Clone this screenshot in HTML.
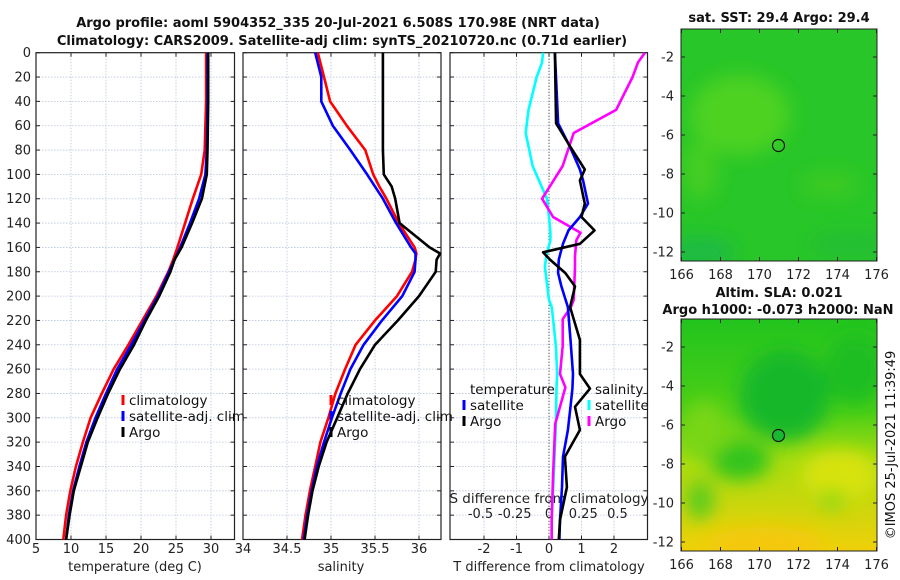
<!DOCTYPE html>
<html><head><meta charset="utf-8"><style>
html,body{margin:0;padding:0;background:#fff}
svg{display:block;font-family:"DejaVu Sans","Liberation Sans",sans-serif}
</style></head><body>
<svg id="fig" width="900" height="580" viewBox="0 0 900 580" xmlns="http://www.w3.org/2000/svg">
<defs>
<filter id="blur1" x="-20%" y="-20%" width="140%" height="140%"><feGaussianBlur stdDeviation="9"/></filter>
<clipPath id="cm1"><rect x="681" y="29" width="196" height="232"/></clipPath>
<clipPath id="cm2"><rect x="681" y="319" width="196" height="232"/></clipPath>
<linearGradient id="g2" x1="0" y1="0" x2="0" y2="1">
<stop offset="0" stop-color="#22c41e"/><stop offset="0.4" stop-color="#4ccf16"/><stop offset="0.62" stop-color="#a8dc10"/><stop offset="1" stop-color="#f0d008"/></linearGradient>
</defs>
<g font-size="13" font-weight="bold" fill="#111" text-anchor="middle">
<text x="338" y="27">Argo profile: aoml 5904352_335 20-Jul-2021 6.508S 170.98E (NRT data)</text>
<text x="342" y="45">Climatology: CARS2009. Satellite-adj clim: synTS_20210720.nc (0.71d earlier)</text>
</g>
<g id="p1"></g>
<g id="p2"></g>
<g id="p3"></g>

<g>
<text x="779" y="22" font-size="13" font-weight="bold" text-anchor="middle" fill="#111">sat. SST: 29.4 Argo: 29.4</text>
<g clip-path="url(#cm1)">
<rect x="681" y="29" width="196" height="232" fill="#28c628"/>
<g filter="url(#blur1)">
<ellipse cx="740" cy="115" rx="50" ry="40" fill="#4ed222"/>
<ellipse cx="700" cy="170" rx="18" ry="30" fill="#44ce22"/>
<ellipse cx="830" cy="185" rx="30" ry="12" fill="#3cca22"/>
<ellipse cx="700" cy="252" rx="35" ry="15" fill="#1cba44"/>
<ellipse cx="850" cy="245" rx="40" ry="12" fill="#22be34"/>
</g>
</g>
<rect x="681" y="29" width="196" height="232" fill="none" stroke="#222" stroke-width="1"/>
<circle cx="778.5" cy="145.5" r="6" fill="none" stroke="#111" stroke-width="1.2"/>
<g id="m1ax"></g>
</g>
<g>
<text x="779" y="297" font-size="13" font-weight="bold" text-anchor="middle" fill="#111">Altim. SLA: 0.021</text>
<text x="778" y="314" font-size="13" font-weight="bold" text-anchor="middle" fill="#111">Argo h1000: -0.073 h2000: NaN</text>
<g clip-path="url(#cm2)">
<rect x="681" y="319" width="196" height="232" fill="url(#g2)"/>
<g filter="url(#blur1)">
<ellipse cx="785" cy="395" rx="45" ry="45" fill="#14b82a"/>
<ellipse cx="855" cy="370" rx="30" ry="35" fill="#1cbe24"/>
<ellipse cx="740" cy="460" rx="30" ry="20" fill="#30c41c"/>
<ellipse cx="705" cy="430" rx="22" ry="30" fill="#78d614"/>
<ellipse cx="840" cy="475" rx="38" ry="25" fill="#d8e20c"/>
<ellipse cx="832" cy="500" rx="13" ry="10" fill="#8cd814"/>
<ellipse cx="765" cy="545" rx="60" ry="18" fill="#f4c808"/>
<ellipse cx="700" cy="500" rx="14" ry="20" fill="#5ccc1a"/>
</g>
</g>
<rect x="681" y="319" width="196" height="232" fill="none" stroke="#222" stroke-width="1"/>
<circle cx="778.5" cy="435.5" r="6" fill="#18b830" stroke="#111" stroke-width="1.2"/>
<g id="m2ax"></g>
</g>
<text transform="translate(895,445) rotate(-90)" font-size="13" text-anchor="middle" fill="#111">©IMOS 25-Jul-2021 11:39:49</text>
</svg>
<script>
const depthTicks = [0,20,40,60,80,100,120,140,160,180,200,220,240,260,280,300,320,340,360,380,400];
const tempTicks = [5,10,15,20,25,30];
const salTicks = [34,34.5,35,35.5,36];
const salTickLabels = ["34","34.5","35","35.5","36"];
const tdiffTicks = [-2,-1,0,1,2];
const sdiffTicks = [-0.5,-0.25,0,0.25,0.5];
const sdiffTickLabels = ["-0.5","-0.25","0","0.25","0.5"];
const mapLonTicks = [166,168,170,172,174,176];
const mapLatTicks = [-2,-4,-6,-8,-10,-12];

const tDepth = [0,40,80,100,120,140,160,170,180,200,220,240,260,280,300,320,340,360,380,400];
const tClim = [29.3,29.3,29.1,28.6,27.4,26.3,25.2,24.6,23.9,22.2,20.2,18.2,16.1,14.4,12.8,11.7,10.7,9.9,9.3,8.9];
const tSat  = [29.5,29.5,29.4,29.2,28.3,27.0,25.6,24.8,24.0,22.4,20.5,18.6,16.6,15.0,13.5,12.2,11.2,10.3,9.7,9.3];
const tArgo = [29.6,29.6,29.5,29.4,28.7,27.3,25.8,24.8,24.2,22.6,20.7,19.0,17.0,15.3,13.8,12.4,11.4,10.4,9.8,9.3];

const sDepth = [0,20,40,60,80,100,110,120,140,160,165,170,180,200,220,240,260,280,300,320,340,360,380,400];
const sClim = [34.85,34.92,34.99,35.18,35.39,35.48,35.55,35.63,35.77,35.95,35.97,35.96,35.92,35.75,35.50,35.28,35.16,35.05,34.97,34.88,34.82,34.76,34.71,34.67];
const sSat  = [34.82,34.89,34.89,35.02,35.22,35.41,35.50,35.59,35.74,35.91,35.96,35.96,35.95,35.81,35.58,35.37,35.22,35.11,35.01,34.92,34.84,34.78,34.73,34.69];
const sArgo = [35.59,35.59,35.59,35.59,35.59,35.60,35.69,35.73,35.78,36.12,36.24,36.20,36.19,36.00,35.76,35.50,35.33,35.19,35.07,34.95,34.86,34.79,34.74,34.70];

const dTDepth = [0,58,77,96,105,124,135,146,157,164,170,181,192,209,236,264,276,291,310,332,357,384,400];
const dTSat  = [0.18,0.28,0.64,0.95,1.05,1.2,0.95,0.6,0.43,0.36,0.3,0.28,0.38,0.58,0.66,0.74,0.72,0.66,0.58,0.43,0.4,0.34,0.32];
const dTArgo = [0.18,0.22,0.65,1.1,0.95,1.1,1.0,1.4,0.95,-0.18,0.03,0.5,0.8,0.65,0.95,0.95,1.26,0.8,0.95,0.49,0.55,0.34,0.3];
const dSDepth = [0,8,20,47,66,93,120,135,148,154,167,176,203,209,219,241,264,275,305,319,346,384,400];
const dSSat  = [-0.044,-0.05,-0.09,-0.15,-0.17,-0.12,-0.015,0.0,0.01,0.01,-0.02,-0.03,0.0,0.02,0.03,0.05,0.06,0.055,0.05,0.045,0.035,0.02,0.02];
const dSArgo = [0.70,0.65,0.61,0.49,0.18,0.10,-0.05,0.03,0.23,0.2,0.19,0.19,0.18,0.16,0.10,0.10,0.08,0.12,0.045,0.04,0.03,0.02,0.02];

const NS = "http://www.w3.org/2000/svg";
const TOP = 52.7, BOT = 539.5;
function yD(d){ return TOP + d*(BOT-TOP)/400; }
function mk(tag, attrs, parent, txt){
  const e = document.createElementNS(NS, tag);
  for (const k in attrs) e.setAttribute(k, attrs[k]);
  if (txt !== undefined) e.textContent = txt;
  parent.appendChild(e); return e;
}
function frame(g, x0, x1, xTickPos, name){
  for (const d of depthTicks){
    const ln = mk('line',{x1:x0,x2:x1,y1:yD(d),y2:yD(d),stroke:'#b8c4e0','stroke-width':0.8,'stroke-dasharray':'1.5,1.5'},g);
    
    
    mk('line',{x1:x0,x2:x0+4,y1:yD(d),y2:yD(d),stroke:'#222'},g);
    mk('line',{x1:x1-4,x2:x1,y1:yD(d),y2:yD(d),stroke:'#222'},g);
  }
  for (const x of xTickPos){
    const ln = mk('line',{x1:x,x2:x,y1:TOP,y2:BOT,stroke:'#b8c4e0','stroke-width':0.8,'stroke-dasharray':'1.5,1.5'},g);
    
    
    mk('line',{x1:x,x2:x,y1:BOT-4,y2:BOT,stroke:'#222'},g);
    mk('line',{x1:x,x2:x,y1:TOP,y2:TOP+4,stroke:'#222'},g);
  }
  const r = mk('rect',{x:x0,y:TOP,width:x1-x0,height:BOT-TOP,fill:'none',stroke:'#222','stroke-width':1.2},g);
  
  
}
function line(g, xs, ds, xf, color, name, w){
  const pts = xs.map((v,i)=> xf(v).toFixed(1)+','+yD(ds[i]).toFixed(1)).join(' ');
  const p = mk('polyline',{points:pts,fill:'none',stroke:color,'stroke-width':w||2.6,'stroke-linejoin':'round'},g);
  
  
}
function legendItem(g, x, y, color, label, name){
  mk('rect',{x:x-1.5,y:y-10,width:3,height:10,fill:color},g);
  const t = mk('text',{x:x+6,y:y,'font-size':13.5,fill:'#111'},g,label);
  
  
}

const p1 = document.getElementById('p1');
const xT = v => 36 + (v-5)*7;
frame(p1, 36, 234.5, tempTicks.slice(1).map(xT), 'temp');
for (const d of depthTicks){
  const t = mk('text',{x:31,y:yD(d)+4.5,'font-size':13,'text-anchor':'end',fill:'#222'},p1,String(d));
  
  
}
for (const v of tempTicks){
  const t = mk('text',{x:xT(v),y:553,'font-size':13,'text-anchor':'middle',fill:'#222'},p1,String(v));
  
  
}
const xl1 = mk('text',{x:135,y:571,'font-size':13,'text-anchor':'middle',fill:'#222'},p1,'temperature (deg C)');


line(p1, tClim, tDepth, xT, '#f00', 'temp-climatology-line');
line(p1, tSat, tDepth, xT, '#00f', 'temp-satellite-line');
line(p1, tArgo, tDepth, xT, '#000', 'temp-argo-line');
legendItem(p1, 123, 405, '#f00', 'climatology', 'legend-climatology');
legendItem(p1, 123, 421, '#00f', 'satellite-adj. clim', 'legend-satellite-adj');
legendItem(p1, 123, 437, '#000', 'Argo', 'legend-argo');

const p2 = document.getElementById('p2');
const xS = v => 243 + (v-34)*88;
frame(p2, 243, 441, salTicks.slice(1).map(xS), 'sal');
salTicks.forEach((v,i)=>{
  const t = mk('text',{x:xS(v),y:553,'font-size':13,'text-anchor':'middle',fill:'#222'},p2,salTickLabels[i]);
  
  
});
const xl2 = mk('text',{x:341,y:571,'font-size':13,'text-anchor':'middle',fill:'#222'},p2,'salinity');


line(p2, sClim, sDepth, xS, '#f00', 'sal-climatology-line');
line(p2, sSat, sDepth, xS, '#00f', 'sal-satellite-line');
line(p2, sArgo, sDepth, xS, '#000', 'sal-argo-line');
legendItem(p2, 331, 405, '#f00', 'climatology', 'legend-climatology-2');
legendItem(p2, 331, 421, '#00f', 'satellite-adj. clim', 'legend-satellite-adj-2');
legendItem(p2, 331, 437, '#000', 'Argo', 'legend-argo-2');

const p3 = document.getElementById('p3');
const xDT = v => 549 + v*32.5;
const xDS = v => 549 + v*137;
frame(p3, 450, 647.5, tdiffTicks.map(xDT), 'diff');
const zl = mk('line',{x1:549,x2:549,y1:TOP,y2:BOT,stroke:'#333','stroke-width':1,'stroke-dasharray':'1,2'},p3);


for (const v of tdiffTicks){
  const t = mk('text',{x:xDT(v),y:553,'font-size':13,'text-anchor':'middle',fill:'#222'},p3,String(v));
  
  
}
const xl3 = mk('text',{x:549,y:571,'font-size':13,'text-anchor':'middle',fill:'#222'},p3,'T difference from climatology');


sdiffTicks.forEach((v,i)=>{
  const t = mk('text',{x:xDS(v),y:518,'font-size':13,'text-anchor':'middle',fill:'#222'},p3,sdiffTickLabels[i]);
  
  
});
const xl4 = mk('text',{x:549,y:503,'font-size':13.5,'text-anchor':'middle',fill:'#222'},p3,'S difference from climatology');


line(p3, dSSat, dSDepth, xDS, '#0ff', 'sdiff-satellite-line');
line(p3, dSArgo, dSDepth, xDS, '#f0f', 'sdiff-argo-line');
line(p3, dTSat, dTDepth, xDT, '#00f', 'tdiff-satellite-line');
line(p3, dTArgo, dTDepth, xDT, '#000', 'tdiff-argo-line');
const lt = mk('text',{x:470,y:394,'font-size':13.5,fill:'#111'},p3,'temperature');


legendItem(p3, 464, 410, '#00f', 'satellite', 'legend-t-satellite');
legendItem(p3, 464, 426, '#000', 'Argo', 'legend-t-argo');
const ls = mk('text',{x:595,y:394,'font-size':13.5,fill:'#111'},p3,'salinity');


legendItem(p3, 589, 410, '#0ff', 'satellite', 'legend-s-satellite');
legendItem(p3, 589, 426, '#f0f', 'Argo', 'legend-s-argo');

function mapAxes(gid, y0){
  const g = document.getElementById(gid);
  const mx = lon => 681.5 + (lon-166)*19.5;
  const my = lat => y0 + 28 + (-2-lat)*19.5;
  for (const lon of mapLonTicks){
    mk('line',{x1:mx(lon),x2:mx(lon),y1:y0+232,y2:y0+228,stroke:'#222'},g);
    mk('line',{x1:mx(lon),x2:mx(lon),y1:y0,y2:y0+4,stroke:'#222'},g);
    const t = mk('text',{x:mx(lon),y:y0+250,'font-size':13,'text-anchor':'middle',fill:'#222'},g,String(lon));
    
    
  }
  for (const lat of mapLatTicks){
    mk('line',{x1:681,x2:685,y1:my(lat),y2:my(lat),stroke:'#222'},g);
    mk('line',{x1:873,x2:877,y1:my(lat),y2:my(lat),stroke:'#222'},g);
    const t = mk('text',{x:674,y:my(lat)+4.5,'font-size':13,'text-anchor':'end',fill:'#222'},g,String(lat));
    
    
  }
}
mapAxes('m1ax', 29);
mapAxes('m2ax', 319);
</script>
</body></html>
